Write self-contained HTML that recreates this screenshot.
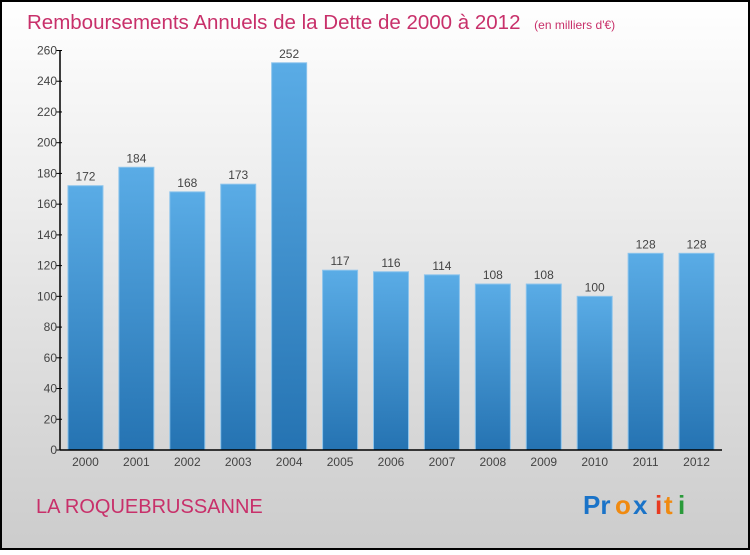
<!DOCTYPE html>
<html><head><meta charset="utf-8"><style>
html,body{margin:0;padding:0}
body{width:750px;height:550px;overflow:hidden;font-family:"Liberation Sans",sans-serif}
</style></head><body>
<svg id="chart" width="750" height="550" xmlns="http://www.w3.org/2000/svg">
<defs>
<linearGradient id="bg" x1="0" y1="0" x2="0" y2="1"><stop offset="0" stop-color="#ffffff"/><stop offset="1" stop-color="#cccccc"/></linearGradient>
<linearGradient id="bar" x1="0" y1="0" x2="0" y2="1"><stop offset="0" stop-color="#5aace6"/><stop offset="1" stop-color="#2573b2"/></linearGradient>
</defs>
<rect x="1" y="1" width="748" height="548" fill="url(#bg)" stroke="#000" stroke-width="2"/>
<text x="27" y="29" font-size="20.5" fill="#c8306a">Remboursements Annuels de la Dette de 2000 à 2012 <tspan font-size="12" dx="8">(en milliers d'€)</tspan></text>
<g id="bars"></g>
<g id="axes"></g>
<text x="36" y="513" font-size="20" fill="#c8306a">LA ROQUEBRUSSANNE</text>
<g font-size="26" font-weight="bold">
<text x="583" y="514" fill="#1a73c8">Pr</text><text x="615" y="514" fill="#f08a10">o</text><text x="633" y="514" fill="#1a73c8">x</text><text x="655" y="514" fill="#e83a20">i</text><text x="664" y="514" fill="#f08a10">t</text><text x="678" y="514" fill="#2a9a3a">i</text>
</g>
</svg>
<script>
const categories=["2000","2001","2002","2003","2004","2005","2006","2007","2008","2009","2010","2011","2012"];
const values=[172,184,168,173,252,117,116,114,108,108,100,128,128];
const yTicks=[0,20,40,60,80,100,120,140,160,180,200,220,240,260];
const NS="http://www.w3.org/2000/svg";
const x0=60,x1=722,yBase=450,yTop=50.5,yMax=260;
const step=(x1-x0)/categories.length;
const y=v=>yBase-(v/yMax)*(yBase-yTop);
const xc=i=>x0+step*(i+0.5);
function mk(tag,attrs,parent){const e=document.createElementNS(NS,tag);for(const k in attrs)e.setAttribute(k,attrs[k]);parent.appendChild(e);return e;}
const bars=document.getElementById('bars'),axes=document.getElementById('axes');
values.forEach((v,i)=>{
  const r=mk('rect',{x:xc(i)-17.5,y:y(v),width:35,height:yBase-y(v),fill:'url(#bar)',stroke:'#8cc4ec','stroke-width':1},bars);
  
  
  const t=mk('text',{x:xc(i),y:y(v)-5,'text-anchor':'middle','font-size':12,fill:'#444'},bars);
  t.textContent=v;
  
  
  const c=mk('text',{x:xc(i),y:466,'text-anchor':'middle','font-size':12,fill:'#444'},axes);
  c.textContent=categories[i];
  
  
});
yTicks.forEach(v=>{
  mk('line',{x1:x0-4,x2:x0+2,y1:y(v),y2:y(v),stroke:'#000'},axes);
  const t=mk('text',{x:x0-3,y:y(v)+4,'text-anchor':'end','font-size':12,fill:'#444'},axes);
  t.textContent=v;
  
  
});
const ya=mk('line',{x1:x0,x2:x0,y1:yTop,y2:yBase,stroke:'#000','stroke-width':1.5},axes);


const xa=mk('line',{x1:x0,x2:x1,y1:yBase,y2:yBase,stroke:'#000','stroke-width':1.5},axes);


</script>
</body></html>
